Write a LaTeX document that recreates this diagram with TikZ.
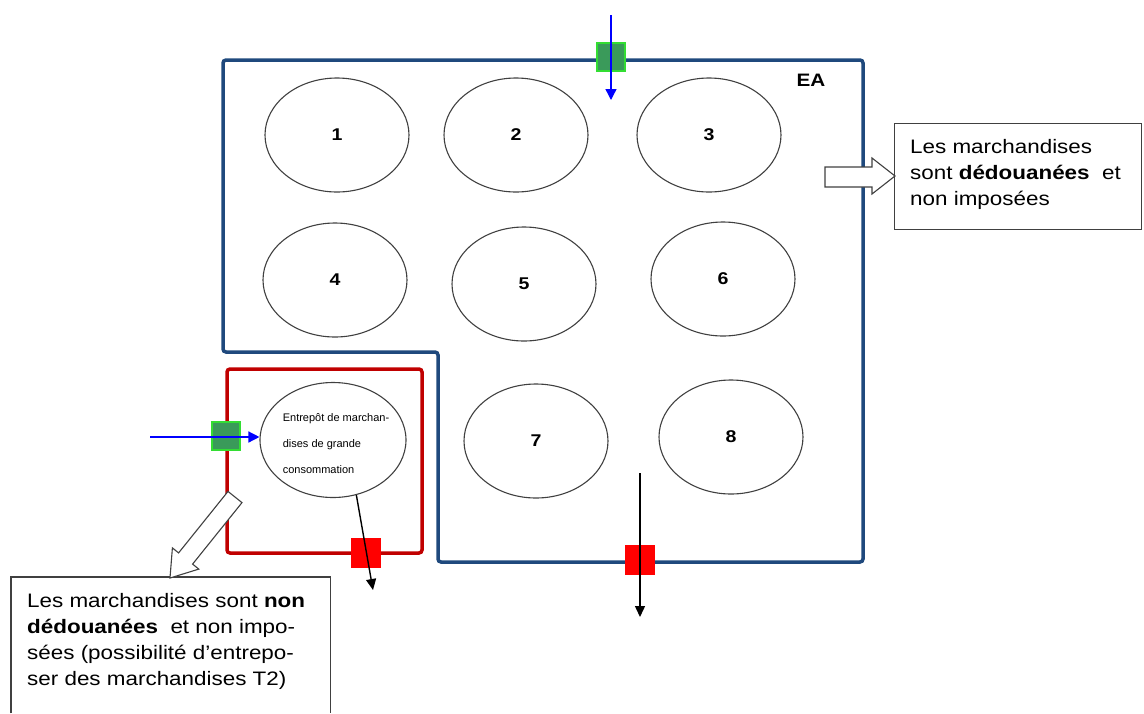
\documentclass[tikz,border=0pt]{standalone}
\usepackage{fontspec}
\setmainfont{Liberation Sans}[FakeStretch=1.15]
\newfontfamily\plainsans{Liberation Sans}
\usetikzlibrary{arrows.meta,shapes.geometric}
\definecolor{eablue}{HTML}{1F497D}
\definecolor{boxred}{HTML}{C00000}
\definecolor{sqgreen}{HTML}{3A9A5A}
\definecolor{sqborder}{HTML}{33DD33}
\definecolor{sqred}{HTML}{FF0000}
\definecolor{linegray}{HTML}{404040}
\tikzset{
  ell/.style={ellipse, draw=linegray, line width=1.1pt, inner sep=0pt,
    minimum width=144pt, minimum height=114pt,
    font=\bfseries\fontsize{17}{20}\selectfont},
  eaborder/.style={draw=eablue, line width=3.5pt, rounded corners=3pt},
  redborder/.style={draw=boxred, line width=3.5pt, rounded corners=3pt},
  gsq/.style={rectangle, fill=sqgreen, draw=sqborder, line width=1.2pt,
    minimum size=28pt, inner sep=0pt},
  rsq/.style={rectangle, fill=sqred, minimum size=30pt, inner sep=0pt},
  bluearrow/.style={draw=blue, line width=1.4pt, -{Triangle[length=11pt,width=11pt]}},
  blkarrow/.style={draw=black, line width=1.4pt, -{Triangle[length=11pt,width=10pt]}},
  blockarrow/.style={fill=white, draw=linegray, line width=1.1pt, line join=miter},
  txt/.style={inner sep=0pt, anchor=north west, align=left,
    font=\fontsize{19.5}{26}\selectfont},
}
\begin{document}
\begin{tikzpicture}[x=1pt,y=-1pt]
\useasboundingbox (0,0) rectangle (1144,713);

% ellipses
\node[ell] (e1) at (337,135) {1};
\node[ell] (e2) at (516,135) {2};
\node[ell] (e3) at (709,135) {3};
\node[ell] (e4) at (335,280) {4};
\node[ell] (e5) at (524,284) {5};
\node[ell] (e6) at (723,279) {6};
\node[ell] (e7) at (536,441) {7};
\node[ell] (e8) at (731,437) {8};
\node[ell, minimum width=146pt, minimum height=115pt] (eS) at (333,440) {};
\node[inner sep=0pt, align=left, font=\plainsans\fontsize{11}{26}\selectfont]
  (eStext) at (336,444) {Entrepôt de marchan-\\dises de grande\\consommation};

% outlines
\draw[eaborder] (223,60) -- (863,60) -- (863,562) -- (438,562) -- (438,352) -- (223,352) -- cycle;
\draw[redborder] (227,369) rectangle (422,553);
\node[font=\bfseries\fontsize{18}{20}\selectfont, inner sep=0pt] (ea) at (811,80) {EA};

% right text box
\node[draw=linegray, line width=1.1pt, minimum width=247pt, minimum height=106pt,
  anchor=north west, inner sep=0pt] (rbox) at (894,123) {};
\node[txt] (rtext) at (910,139) {Les marchandises\\sont \textbf{dédouanées}~ et\\non imposées};
\draw[blockarrow] (825,167) -- (872,167) -- (872,158) -- (895,176) -- (872,194) -- (872,187) -- (825,187) -- cycle;

% bottom-left text box
\node[minimum width=319pt, minimum height=136pt, anchor=north west, inner sep=0pt] (lbox) at (11,577) {};
\draw[draw=linegray, line width=1.1pt] (lbox.south west) -- (lbox.north west) -- (lbox.north east) -- (lbox.south east);
\node[txt] (ltext) at (27,593) {Les marchandises sont \textbf{non}\\\textbf{dédouanées}~ et non impo-\\sées (possibilité d'entrepo-\\ser des marchandises T2)};
\draw[blockarrow] (242.0,502.6) -- (192.6,564.1) -- (198.8,569.1) -- (170,578) -- (172.4,547.9) -- (178.6,552.9) -- (228.0,491.4) -- cycle;

% squares
\node[gsq] (gtop) at (611,57) {};
\node[gsq] (gleft) at (226,436) {};
\node[rsq] (rred) at (366,553) {};
\node[rsq] (rbot) at (640,560) {};

% arrows
\coordinate (btop) at (611,15);
\coordinate (bend) at (611,100);
\draw[bluearrow] (btop) -- (bend);
\coordinate (lstart) at (150,437);
\draw[bluearrow] (lstart) -- (lstart -| eS.west);
\coordinate (sEnd) at (373,590);
\draw[blkarrow] (eS.-67) -- (sEnd);
\coordinate (bStart) at (640,473);
\coordinate (bEnd) at (640,617);
\draw[blkarrow] (bStart) -- (bEnd);
\end{tikzpicture}
\end{document}
